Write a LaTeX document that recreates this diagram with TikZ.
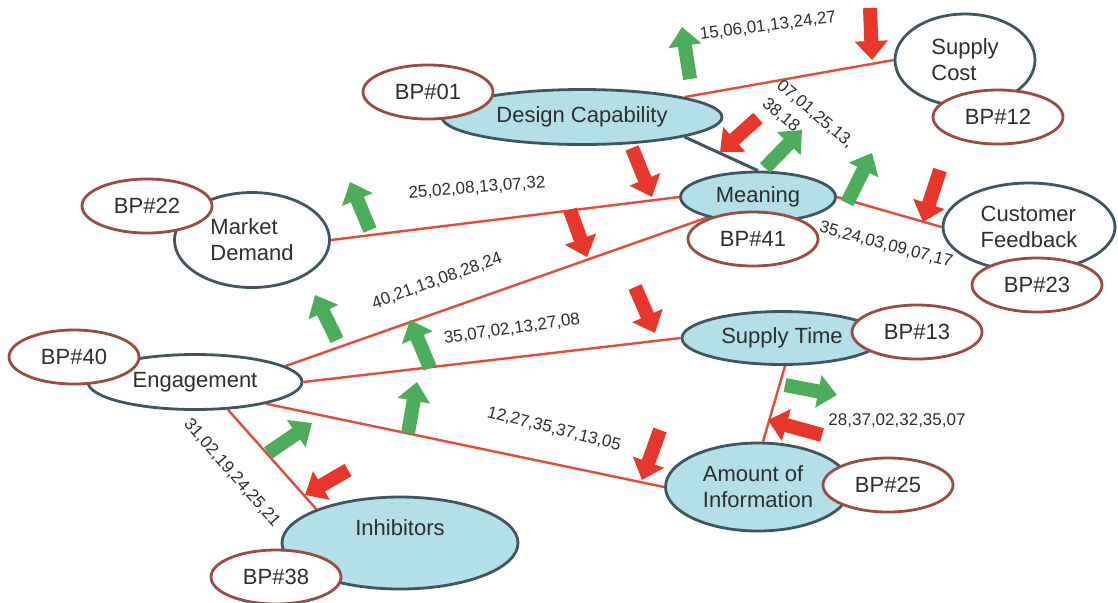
\documentclass[tikz,border=0pt]{standalone}
\usepackage{fontspec}
\setmainfont{Liberation Sans}
\usetikzlibrary{arrows.meta,shapes.geometric,backgrounds}

\definecolor{linkred}{HTML}{E8493D}
\definecolor{dropred}{HTML}{E8372A}
\definecolor{risegreen}{HTML}{4CAD5A}
\definecolor{slate}{HTML}{3F5661}
\definecolor{bpred}{HTML}{9B4B42}
\definecolor{corefill}{HTML}{B2DFE8}
\definecolor{txt}{HTML}{2E2E2E}

\begin{document}
\begin{tikzpicture}[x=0.5pt,y=-0.5pt,
  factor/.style={ellipse,draw=slate,line width=1.4pt,inner sep=0pt,
    font=\fontsize{11}{13}\selectfont,text=txt,align=left},
  core/.style={factor,fill=corefill},
  plain/.style={factor,fill=white},
  bp/.style={ellipse,draw=bpred,fill=white,line width=1.4pt,
    minimum width=65pt,minimum height=27pt,inner sep=0pt,
    font=\fontsize{11}{13}\selectfont,text=txt},
  link/.style={draw=linkred,line width=1.2pt},
  gain/.style={draw=risegreen,line width=7pt,-{Triangle[length=9.5pt,width=16pt]}},
  loss/.style={draw=dropred,line width=7pt,-{Triangle[length=9.5pt,width=16pt]}},
  codes/.style={font=\fontsize{8.5}{11.3}\selectfont,text=txt,inner sep=0pt,align=left}
]
\useasboundingbox (0,0) rectangle (1118,602);

% factors
\node[core,minimum width=140pt,minimum height=27.5pt] (dc) at (582,117) {Design Capability};
\node[plain,minimum width=70pt,minimum height=46pt] (sc) at (965,60) {Supply\\Cost};
\node[core,minimum width=77.5pt,minimum height=25pt] (mn) at (758,197) {Meaning};
\node[plain,minimum width=86pt,minimum height=44pt] (cf) at (1029,227) {Customer\\Feedback};
\node[plain,minimum width=77.5pt,minimum height=47.5pt] (md) at (252,240) {Market\\Demand};
\node[plain,minimum width=107pt,minimum height=27.5pt] (en) at (195,382) {Engagement};
\node[core,minimum width=100pt,minimum height=26.5pt] (st) at (782,338) {Supply Time};
\node[core,minimum width=92.5pt,minimum height=44pt] (aoi) at (758,487) {Amount of\\Information};
\node[core,minimum width=118pt,minimum height=46pt] (inh) at (400,543) {};
\node[font=\fontsize{11}{13}\selectfont,text=txt] (inhtxt) at ([yshift=7.5pt]inh.center) {Inhibitors};

% best-practice tags
\node[bp] (bp01) at (428,92) {BP\#01};
\node[bp] (bp12) at (998,117) {BP\#12};
\node[bp] (bp41) at (753,239) {BP\#41};
\node[bp] (bp23) at (1037,285) {BP\#23};
\node[bp] (bp22) at (147,206) {BP\#22};
\node[bp] (bp40) at (74,357) {BP\#40};
\node[bp] (bp13) at (917,332) {BP\#13};
\node[bp] (bp25) at (888,485) {BP\#25};
\node[bp] (bp38) at (276,577) {BP\#38};

% links between factors
\begin{pgfonlayer}{background}
\draw[link] (dc.11.5) -- (sc.west);
\draw[draw=slate,line width=1.5pt] (dc.-11.5) -- (mn.north);
\draw[link] (md.east) -- (mn.west);
\draw[link] (mn.east) -- (cf.west);
\draw[link] (en.10) -- (mn.202);
\draw[link] (en.east) -- (st.west);
\draw[link] (en.-17) -- (aoi.west);
\draw[link] (en.-40) -- (inh.158);
\draw[link] ([xshift=1.5pt]st.south) -- ([xshift=2.5pt]aoi.north);
\end{pgfonlayer}

% direction markers
\draw[gain] (690,79) -- (682,27);
\draw[gain] (765,168) -- (802,130);
\draw[gain] (847,203) -- (872,153);
\draw[gain] (370,230) -- (350,182);
\draw[gain] (337,340) -- (315,295);
\draw[gain] (430,368) -- (410,320);
\draw[gain] (408,433) -- (417,382);
\draw[gain] (268,453) -- (312,423);
\draw[gain] (785,385) -- (837,395);

\draw[loss] (870,8) -- (872,60);
\draw[loss] (758,118) -- (720,152);
\draw[loss] (632,148) -- (652,197);
\draw[loss] (570,210) -- (587,257);
\draw[loss] (635,287) -- (655,333);
\draw[loss] (940,170) -- (923,222);
\draw[loss] (660,430) -- (642,480);
\draw[loss] (822,435) -- (768,420);
\draw[loss] (348,470) -- (305,495);

% code lists
\node[codes,rotate=7.5] (c1) at (768,26) {15,06,01,13,24,27};
\node[codes,rotate=-40] (c2) at (808,123) {07,01,25,13,\\38,18};
\node[codes,rotate=-15] (c3) at (886,245) {35,24,03,09,07,17};
\node[codes,rotate=4.5] (c4) at (477,188) {25,02,08,13,07,32};
\node[codes,rotate=20] (c5) at (437,281) {40,21,13,08,28,24};
\node[codes,rotate=8] (c6) at (512,329) {35,07,02,13,27,08};
\node[codes,rotate=-14] (c7) at (554,429) {12,27,35,37,13,05};
\node[codes,rotate=-49] (c8) at (232,473) {31,02,19,24,25,21};
\node[codes] (c9) at (897,421) {28,37,02,32,35,07};
\end{tikzpicture}
\end{document}
